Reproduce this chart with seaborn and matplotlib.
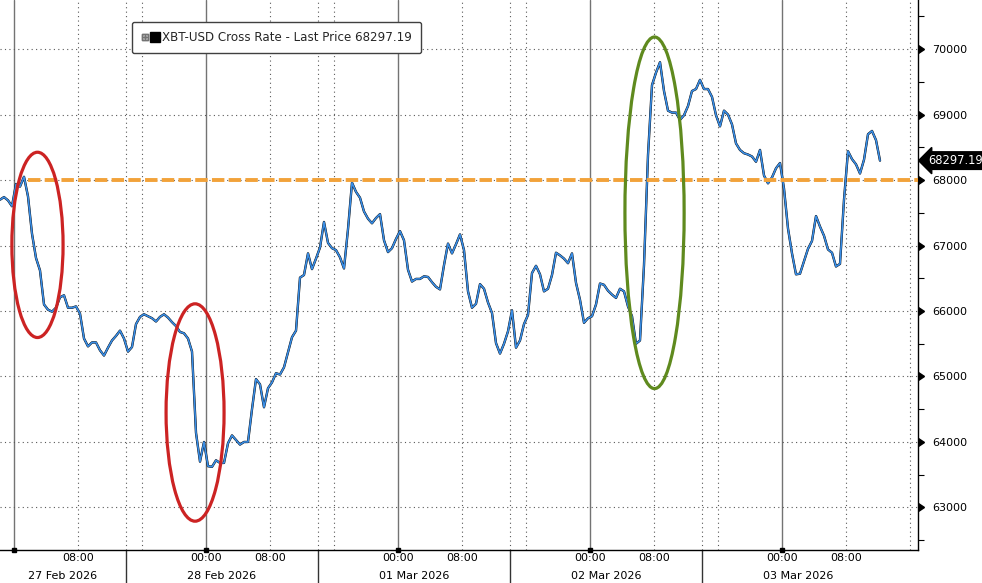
import pandas as pd
import matplotlib
matplotlib.use("Agg")
import matplotlib.pyplot as plt
import matplotlib.dates as mdates
import matplotlib.markers as mmarkers
import matplotlib.transforms as mtransforms
from matplotlib.lines import Line2D
from matplotlib.legend_handler import HandlerTuple
from matplotlib.patches import Ellipse
import seaborn as sns

# === Data (30-minute closes) ===
start_time = "2026-02-26 22:15"
price = [
    67700, 67740, 67690, 67600, 67940, 67900, 68050, 67750, 67180, 66810,
    66620, 66100, 66020, 65990, 66050, 66210, 66240, 66050, 66050, 66070,
    65960, 65580, 65460, 65520, 65520, 65400, 65320, 65440, 65550, 65620,
    65700, 65580, 65380, 65450, 65800, 65910, 65950, 65920, 65890, 65840,
    65910, 65950, 65900, 65830, 65770, 65680, 65660, 65580, 65380, 64140,
    63700, 64000, 63630, 63620, 63720, 63680, 63680, 63980, 64100, 64030,
    63960, 64000, 64000, 64500, 64960, 64880, 64530, 64820, 64910, 65050,
    65030, 65140, 65370, 65600, 65700, 66510, 66550, 66880, 66640, 66800,
    66970, 67360, 67040, 66960, 66930, 66820, 66650, 67250, 67960, 67820,
    67730, 67520, 67410, 67340, 67420, 67480, 67080, 66900, 66960, 67100,
    67220, 67080, 66630, 66450, 66490, 66490, 66530, 66520, 66440, 66370,
    66330, 66700, 67030, 66880, 67020, 67170, 66930, 66300, 66050, 66110,
    66410, 66340, 66130, 65970, 65510, 65350, 65500, 65690, 66010, 65440,
    65550, 65800, 65940, 66580, 66690, 66560, 66300, 66340, 66550, 66890,
    66850, 66800, 66730, 66880, 66430, 66170, 65820, 65890, 65920, 66100,
    66420, 66400, 66310, 66250, 66200, 66340, 66300, 66070, 65920, 65500,
    65550, 66700, 68380, 69450, 69640, 69800, 69360, 69060, 69030, 69030,
    68920, 68990, 69130, 69360, 69390, 69530, 69390, 69390, 69270, 68990,
    68820, 69060, 69000, 68850, 68560, 68460, 68410, 68390, 68360, 68280,
    68460, 68070, 67950, 68040, 68180, 68260, 67870, 67260, 66880, 66560,
    66570, 66760, 66950, 67070, 67450, 67290, 67150, 66940, 66890, 66680,
    66720, 67700, 68440, 68320, 68240, 68100, 68310, 68700, 68750, 68610,
    68297.19,
]
last_price = 68297.19
ref_level = 68000
x_end = "2026-03-03 17:00"
y_min, y_max = 62350, 70750
days = ["2026-02-27", "2026-02-28", "2026-03-01", "2026-03-02", "2026-03-03"]
date_labels = ["27 Feb 2026", "28 Feb 2026", "01 Mar 2026", "02 Mar 2026", "03 Mar 2026"]
legend_label = "XBT-USD Cross Rate - Last Price 68297.19"

# highlighted moves: (centre time, centre price, width hours, height price, colour)
highlights = [
    ("2026-02-27 02:56", 67010, 6.4, 2830, "#cc2323"),
    ("2026-02-27 22:38", 64450, 7.25, 3320, "#cc2323"),
    ("2026-03-02 08:04", 67500, 7.4, 5370, "#5f8a1e"),
]

times = pd.date_range(start_time, periods=len(price), freq="30min")
df = pd.DataFrame({"time": times, "price": price})
day_ts = pd.to_datetime(days)

sns.set_theme(style="white")
plt.rcParams["font.family"] = ["DejaVu Sans"]

fig = plt.figure(figsize=(9.82, 5.83), dpi=100)
ax = fig.add_axes([0, 1 - 550 / 583, 918 / 982, 550 / 583])

x0, x1 = times[0], pd.Timestamp(x_end)
ax.set_xlim(x0, x1)
ax.set_ylim(y_min, y_max)

# === Grid ===
major_y = list(range(63000, 70001, 1000))
ax.set_yticks(major_y)
ax.set_yticks(range(62500, 70501, 1000), minor=True)
ax.grid(axis="y", which="major", ls=(0, (1, 3)), color="0.35", lw=0.8)

blend = mtransforms.blended_transform_factory(ax.transData, ax.transAxes)
yblend = mtransforms.blended_transform_factory(ax.transAxes, ax.transData)
for d in day_ts:
    ax.axvline(d, color="0.45", lw=1.0, zorder=0)
    for h in (8, 16):
        t = d + pd.Timedelta(hours=h)
        if t < x1:
            ax.axvline(t, color="0.35", lw=0.8, ls=(0, (1, 3)), zorder=0)
# date separators (14:00), dotted above axis, solid below
seps = [d + pd.Timedelta(hours=14) for d in day_ts[:-1]]
for s in seps:
    ax.axvline(s, color="0.35", lw=0.8, ls=(0, (1, 3)), zorder=0)
    ax.plot([s, s], [0, -0.07], color="0.2", lw=1.0, transform=blend, clip_on=False)

# === Price line ===
sns.lineplot(data=df, x="time", y="price", color="black", lw=1.7, ax=ax, zorder=3)
sns.lineplot(data=df, x="time", y="price", color="#3a8ee6", lw=1.2, ax=ax, zorder=4)

# reference level
ax.hlines(ref_level, times[7], x1, colors="#f2a23a", lw=2.8, linestyles=(0, (3.2, 1.1)), zorder=5)

# ellipses
for t, p, w, h, c in highlights:
    tn = mdates.date2num(pd.Timestamp(t))
    ax.add_patch(Ellipse((tn, p), w / 24, h, fill=False, ec=c, lw=2.3, zorder=6))

# === Axes styling ===
for side in ("left", "top"):
    ax.spines[side].set_visible(False)
for side in ("right", "bottom"):
    ax.spines[side].set_color("black")
    ax.spines[side].set_linewidth(1.0)

ax.yaxis.tick_right()
ax.tick_params(axis="y", which="major", direction="out", length=8, width=0,
               pad=2, labelsize=8, colors="black")
ax.tick_params(axis="y", which="minor", direction="out", length=4, width=0.8, colors="black")
# triangular major tick marks pointing at the labels
ax.plot([1] * len(major_y), major_y, ls="none", marker=mmarkers.CARETRIGHTBASE, ms=6,
        color="black", transform=yblend, clip_on=False, zorder=7)

xt = [d + pd.Timedelta(hours=h) for d in day_ts for h in range(0, 24, 4)
      if d + pd.Timedelta(hours=h) < x1]
xl = []
for t in xt:
    if t.hour == 8:
        xl.append("08:00")
    elif t.hour == 0 and t != day_ts[0]:
        xl.append("00:00")
    else:
        xl.append("")
ax.set_xticks(xt)
ax.set_xticklabels(xl)
ax.tick_params(axis="x", which="major", direction="in", length=4, width=1,
               pad=2, labelsize=8, colors="black")
ax.plot(day_ts, [0] * len(day_ts), "s", color="black", ms=3, transform=blend, clip_on=False)
ax.set_xlabel("")
ax.set_ylabel("")

# date labels centred between separators
bounds = [x0] + seps + [seps[-1] + pd.Timedelta(hours=24)]
for lab, a, b in zip(date_labels, bounds[:-1], bounds[1:]):
    ax.text(a + (b - a) / 2, -0.047, lab, transform=blend, ha="center", va="center",
            fontsize=8, color="black", clip_on=False)

# last price tag
ax.text(1 + 10 / 918, last_price, f"{last_price:.2f}", transform=yblend, ha="left", va="center",
        fontsize=8.3, color="white", clip_on=False,
        bbox=dict(boxstyle="larrow,pad=0.2", fc="black", ec="black"))

# legend
h_plus = Line2D([], [], marker=r"$\boxplus$", color="0.45", ls="none", ms=5)
h_sq = Line2D([], [], marker="s", color="black", ls="none", ms=7.5)
leg = ax.legend([(h_plus, h_sq)], [legend_label], handler_map={tuple: HandlerTuple(ndivide=None, pad=0.1)},
                loc="upper left", bbox_to_anchor=(132 / 918, 1 - 22 / 550), borderaxespad=0,
                fontsize=8.6, frameon=True, fancybox=True, edgecolor="0.25", framealpha=1,
                handlelength=1.5, handletextpad=0.3, borderpad=0.75)
leg.get_frame().set_linewidth(1.0)

fig.savefig("out.png", dpi=100)
